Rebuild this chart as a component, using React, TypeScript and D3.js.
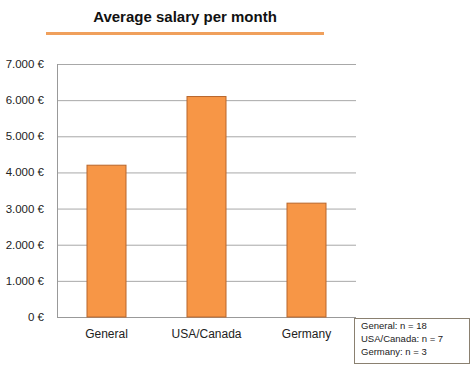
import React from 'react';
import * as d3 from 'd3';

const CATEGORIES = ['General', 'USA/Canada', 'Germany'];
const SALARY = [4200, 6100, 3150];
const Y_TICKS = [0, 1000, 2000, 3000, 4000, 5000, 6000, 7000];
const NOTES = ['General: n = 18', 'USA/Canada: n = 7', 'Germany: n = 3'];

const W = 474;
const H = 366;
const m = { top: 64, left: 57, right: 118, bottom: 49 };

const fmt = (v: number) => d3.format(',')(v).replace(/,/g, '.') + ' €';

export default function App() {
  const x = d3.scaleBand()
    .domain(CATEGORIES)
    .range([m.left, W - m.right])
    .paddingInner(0.61)
    .paddingOuter(0.3);
  const y = d3.scaleLinear()
    .domain([0, 7000])
    .range([H - m.bottom, m.top]);

  const font = '"Liberation Sans", Arial, sans-serif';

  return (
    <svg width={W} height={H} style={{ position: 'absolute', left: 0, top: 0, background: '#fff' }} fontFamily={font}>
      <text x={185} y={22} textAnchor="middle" fontSize={15} fontWeight="bold" fill="#111">
        Average salary  per month
      </text>
      <line x1={46} x2={324} y1={33.5} y2={33.5} stroke="#f0a05c" strokeWidth={3} />

      {Y_TICKS.map(t => (
        <g key={t}>
          {t > 0 && (
            <line x1={m.left} x2={W - m.right} y1={y(t) + 0.5} y2={y(t) + 0.5} stroke="#a8a8a8" />
          )}
          <text x={44} y={y(t)} dy="0.35em" textAnchor="end" fontSize={11.5} fill="#222">
            {fmt(t)}
          </text>
        </g>
      ))}
      <line x1={m.left + 0.5} x2={m.left + 0.5} y1={m.top} y2={y(0)} stroke="#999" />
      <line x1={m.left} x2={W - m.right} y1={y(0) + 0.5} y2={y(0) + 0.5} stroke="#999" />

      {CATEGORIES.map((c, i) => (
        <g key={c}>
          <rect
            x={x(c)!}
            y={y(SALARY[i])}
            width={x.bandwidth()}
            height={y(0) - y(SALARY[i])}
            fill="#f79646"
            stroke="#b8662c"
            strokeWidth={1}
          />
          <text x={x(c)! + x.bandwidth() / 2} y={334} dy="0.35em" textAnchor="middle" fontSize={12} fill="#222">
            {c}
          </text>
        </g>
      ))}

      <rect x={354.5} y={318.5} width={115} height={45} fill="#fff" stroke="#8a8070" strokeWidth={1} />
      {NOTES.map((n, i) => (
        <text key={n} x={361} y={326 + i * 13} dy="0.35em" fontSize={9.5} fill="#222">
          {n}
        </text>
      ))}
    </svg>
  );
}
